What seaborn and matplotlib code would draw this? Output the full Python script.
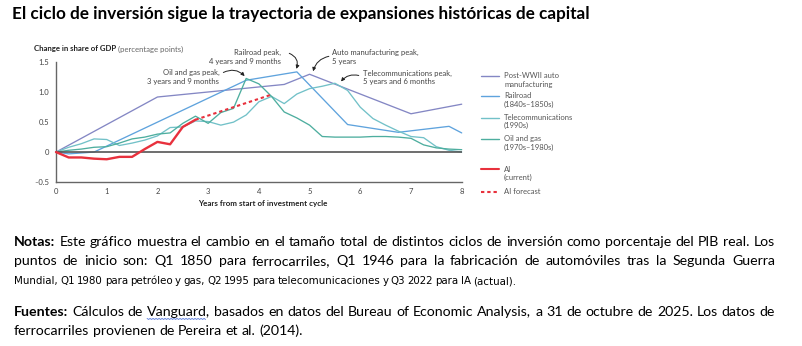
import numpy as np
import pandas as pd
import matplotlib
matplotlib.use("Agg")
import matplotlib.pyplot as plt
from matplotlib.lines import Line2D
from matplotlib import font_manager
from matplotlib.font_manager import FontProperties
import seaborn as sns

# ---------------- data ----------------
years_q = [0, 0.25, 0.5, 0.75, 1, 1.25, 1.5, 1.75, 2, 2.25, 2.5, 2.75, 3, 3.25, 3.5, 3.75,
           4, 4.25, 4.5, 4.75, 5, 5.25, 5.5, 5.75, 6, 6.25, 6.5, 6.75, 7, 7.25, 7.5, 7.75, 8]

auto_x = [0, 2, 4.5, 5, 7, 8]
auto_y = [0, 0.92, 1.13, 1.30, 0.64, 0.80]

rail_x = [0, 0.25, 0.75, 3.75, 4.75, 5.75, 6.75, 7.75, 8]
rail_y = [0, -0.03, 0, 1.20, 1.34, 0.46, 0.33, 0.43, 0.32]

telecom_y = [0, 0.08, 0.14, 0.22, 0.21, 0.11, 0.15, 0.20, 0.27, 0.41, 0.42, 0.52, 0.51, 0.45,
             0.50, 0.62, 0.84, 0.93, 0.81, 0.97, 1.06, 1.10, 1.15, 1.03, 0.75, 0.56, 0.45,
             0.35, 0.26, 0.24, 0.09, 0.03, 0.00]

oil_y = [0, 0.03, 0.05, 0.08, 0.09, 0.15, 0.22, 0.25, 0.30, 0.32, 0.48, 0.60, 0.48, 0.66,
         0.73, 1.23, 1.14, 0.93, 0.67, 0.57, 0.45, 0.26, 0.25, 0.25, 0.25, 0.26, 0.26,
         0.25, 0.23, 0.12, 0.07, 0.05, 0.04]

ai_x = [0, 0.25, 0.5, 0.75, 1, 1.25, 1.5, 1.75, 2, 2.25, 2.5, 2.75]
ai_y = [0, -0.09, -0.09, -0.11, -0.12, -0.08, -0.08, 0.05, 0.17, 0.13, 0.42, 0.54]

ai_fc_x = [2.75, 4.25]
ai_fc_y = [0.54, 0.96]

x_ticks = [0, 1, 2, 3, 4, 5, 6, 7, 8]
y_ticks = [-0.5, 0, 0.5, 1.0, 1.5]
y_tick_labels = ["–0.5", "0", "0.5", "1.0", "1.5"]

series_names = ["Post-WWII auto\nmanufacturing", "Railroad\n(1840s–1850s)",
                "Telecommunications\n(1990s)", "Oil and gas\n(1970s–1980s)",
                "AI\n(current)", "AI forecast"]

title = "El ciclo de inversión sigue la trayectoria de expansiones históricas de capital"
notes = [
    ("Notas: Este gráfico muestra el cambio en el tamaño total de distintos ciclos de inversión como porcentaje del PIB real. Los", "justify"),
    ("puntos de inicio son: Q1 1850 para ferrocarriles, Q1 1946 para la fabricación de automóviles tras la Segunda Guerra", "justify"),
    ("Mundial, Q1 1980 para petróleo y gas, Q2 1995 para telecomunicaciones y Q3 2022 para IA (actual).", "fit"),
    ("Fuentes: Cálculos de Vanguard, basados en datos del Bureau of Economic Analysis, a 31 de octubre de 2025. Los datos de", "justify"),
    ("ferrocarriles provienen de Pereira et al. (2014).", "left"),
]
bold_words = {"Notas:", "Fuentes:"}

# ---------------- style ----------------
sns.set_theme(style="white")
plt.rcParams['font.family'] = ['Lato', 'DejaVu Sans']

# look for a condensed sans face for the condensed third note line
narrow_fp = None
for f in font_manager.fontManager.ttflist:
    nm = f.name.lower()
    if ("narrow" in nm or "condensed" in nm or str(f.stretch) in ("condensed", "semi-condensed")) \
            and f.style == "normal" and str(f.weight) in ("400", "normal", "regular") \
            and "mono" not in nm and "serif" not in nm.replace("sans", ""):
        narrow_fp = f.fname
        break

C_AUTO = "#8487c4"
C_RAIL = "#5fa3dd"
C_TEL = "#72c1c8"
C_OIL = "#4eae9f"
C_AI = "#e8313d"
TXT = "#444444"
FS = 5.5

W, H = 802, 346
fig = plt.figure(figsize=(W / 100, H / 100), dpi=100)
fig.patch.set_facecolor("white")

def fx(px):
    return px / W

def fy(py):
    return 1 - py / H

x0p, x1p, y_top, y_bot = 56, 461.7, 62.3, 182
ax = fig.add_axes([fx(x0p), fy(y_bot), (x1p - x0p) / W, (y_bot - y_top) / H])
ax.set_facecolor("white")

lw = 0.95
sns.lineplot(x=auto_x, y=auto_y, ax=ax, color=C_AUTO, lw=lw, clip_on=False, zorder=3)
sns.lineplot(x=rail_x, y=rail_y, ax=ax, color=C_RAIL, lw=lw, clip_on=False, zorder=3)
sns.lineplot(x=years_q, y=telecom_y, ax=ax, color=C_TEL, lw=lw, clip_on=False, zorder=3)
sns.lineplot(x=years_q, y=oil_y, ax=ax, color=C_OIL, lw=lw, clip_on=False, zorder=3)
ax.axhline(0, color="#555555", lw=1.2, zorder=3.5)
sns.lineplot(x=ai_fc_x, y=ai_fc_y, ax=ax, color=C_AI, lw=1.5, linestyle=(0, (1.6, 1.4)),
             clip_on=False, zorder=4)
sns.lineplot(x=ai_x, y=ai_y, ax=ax, color=C_AI, lw=1.7, clip_on=False, zorder=5)

ax.set_xlim(0, 8)
ax.set_ylim(-0.5, 1.5)
ax.set_xticks(x_ticks)
ax.set_xticklabels([str(v) for v in x_ticks])
ax.set_yticks(y_ticks)
ax.set_yticklabels(y_tick_labels)
for s in ["top", "right"]:
    ax.spines[s].set_visible(False)
for s in ["left", "bottom"]:
    ax.spines[s].set_color("#666666")
    ax.spines[s].set_linewidth(1.0)
ax.tick_params(axis="both", which="both", length=3, width=0.8, color="#666666",
               labelsize=FS, labelcolor=TXT, pad=2, direction="out")
ax.tick_params(axis="x", direction="inout", length=4)
ax.set_xlabel("")
ax.set_ylabel("")
ax.grid(False)

# annotations
arrow_kw = dict(arrowstyle="-|>", color="#222222", lw=0.7, mutation_scale=5, shrinkA=0, shrinkB=0)
ax.text(3.22, 1.255, "Oil and gas peak,\n3 years and 9 months", ha="right", va="center",
        fontsize=FS, color=TXT, linespacing=1.2)
ax.annotate("", xy=(3.72, 1.27), xytext=(3.30, 1.33),
            arrowprops=dict(connectionstyle="arc3,rad=-0.35", **arrow_kw), annotation_clip=False)
ax.text(4.44, 1.59, "Railroad peak,\n4 years and 9 months", ha="right", va="center",
        fontsize=FS, color=TXT, linespacing=1.2)
ax.annotate("", xy=(4.74, 1.39), xytext=(4.60, 1.65),
            arrowprops=dict(connectionstyle="arc3,rad=-0.45", **arrow_kw), annotation_clip=False)
ax.text(5.45, 1.59, "Auto manufacturing peak,\n5 years", ha="left", va="center",
        fontsize=FS, color=TXT, linespacing=1.2)
ax.annotate("", xy=(5.07, 1.35), xytext=(5.38, 1.60),
            arrowprops=dict(connectionstyle="arc3,rad=0.3", **arrow_kw), annotation_clip=False)
ax.text(6.06, 1.245, "Telecommunications peak,\n5 years and 6 months", ha="left", va="center",
        fontsize=FS, color=TXT, linespacing=1.2)
ax.annotate("", xy=(5.62, 1.18), xytext=(5.97, 1.28),
            arrowprops=dict(connectionstyle="arc3,rad=0.3", **arrow_kw), annotation_clip=False)

fig.canvas.draw()
r = fig.canvas.get_renderer()

def width_of(t):
    return t.get_window_extent(r).width

# axis headers
t1 = fig.text(fx(34), fy(49), "Change in share of GDP", fontsize=5.6, fontweight="bold",
              color="#222222", va="center", ha="left")
w1 = width_of(t1)
fig.text(fx(34 + w1 + 2), fy(49), "(percentage points)", fontsize=5.6, color="#666666",
         va="center", ha="left")
fig.text(fx(262.5), fy(203.5), "Years from start of investment cycle", fontsize=5.8,
         fontweight="bold", color="#222222", va="center", ha="center")

# legend (manual, handles aligned with first line)
leg_rows = [
    (series_names[0], 76, C_AUTO, "-", 1.0),
    (series_names[1], 96, C_RAIL, "-", 1.0),
    (series_names[2], 117.5, C_TEL, "-", 1.0),
    (series_names[3], 139, C_OIL, "-", 1.0),
    (series_names[4], 169, C_AI, "-", 1.5),
    (series_names[5], 191.5, C_AI, (0, (1.6, 1.4)), 1.5),
]
for label, py, col, ls, lwi in leg_rows:
    fig.add_artist(Line2D([fx(481), fx(499)], [fy(py), fy(py)], transform=fig.transFigure,
                          color=col, lw=lwi, linestyle=ls))
    for i, line in enumerate(label.split("\n")):
        fig.text(fx(504), fy(py + i * 8.4), line, fontsize=FS, color="#555555",
                 va="center", ha="left")

# title fitted to width
tt = fig.text(fx(12), fy(18.5), title, fontsize=11, fontweight="bold", color="black",
              va="baseline", ha="left")
tw = width_of(tt)
tt.set_fontsize(11 * (588 - 12) / tw)

# notes with justification
def make_fp(size, bold=False, narrow=False):
    if narrow and narrow_fp:
        return FontProperties(fname=narrow_fp, size=size)
    return FontProperties(family=['Lato', 'DejaVu Sans'], size=size,
                          weight="bold" if bold else "normal")

def measure(s, fp):
    t = fig.text(0, 0, s, fontproperties=fp)
    w = width_of(t)
    t.remove()
    return w

def natural_width(line, size, narrow=False):
    ws = line.split(" ")
    fpn = make_fp(size, narrow=narrow)
    sp = measure("a a", fpn) - measure("aa", fpn)
    return sum(measure(w, make_fp(size, w in bold_words, narrow)) for w in ws) + sp * (len(ws) - 1)

base_size = 10
nsize = base_size * 756 / natural_width(notes[0][0], base_size)

XL, XR = 14, 775
FIT_END = 500
baselines = [246, 265, 284, 315.5, 335]
vanguard_box = None
for (line, mode), base in zip(notes, baselines):
    size = nsize
    narrow = False
    if mode == "fit":
        narrow = narrow_fp is not None
        size = base_size * (FIT_END - XL) / natural_width(line, base_size, narrow)
        size = min(max(size, nsize * 0.8), nsize * 1.1)
    fpn = make_fp(size, narrow=narrow)
    space_w = measure("a a", fpn) - measure("aa", fpn)
    words = line.split(" ")
    arts = []
    for w in words:
        t = fig.text(0, fy(base), w, fontproperties=make_fp(size, w in bold_words, narrow),
                     color="black", va="baseline", ha="left")
        arts.append(t)
    widths = [width_of(a) for a in arts]
    if mode == "justify":
        gap = (XR - XL - sum(widths)) / (len(arts) - 1)
    elif mode == "fit":
        gap = max(min(space_w, (FIT_END - XL - sum(widths)) / (len(arts) - 1)), space_w * 0.7)
    else:
        gap = space_w
    x = XL
    for w, a, wd in zip(words, arts, widths):
        a.set_x(fx(x))
        if w.startswith("Vanguard"):
            vanguard_box = (x, x + measure("Vanguard", make_fp(size)))
        x += wd + gap

# spell-check squiggle under "Vanguard"
if vanguard_box is not None:
    xs = np.arange(vanguard_box[0], vanguard_box[1], 1.5)
    ys = 318.5 + 0.9 * (np.arange(len(xs)) % 2)
    fig.add_artist(Line2D(fx(xs), fy(ys), transform=fig.transFigure, color="#4a6fd8", lw=0.6))

fig.savefig("out.png", dpi=100, facecolor="white")
